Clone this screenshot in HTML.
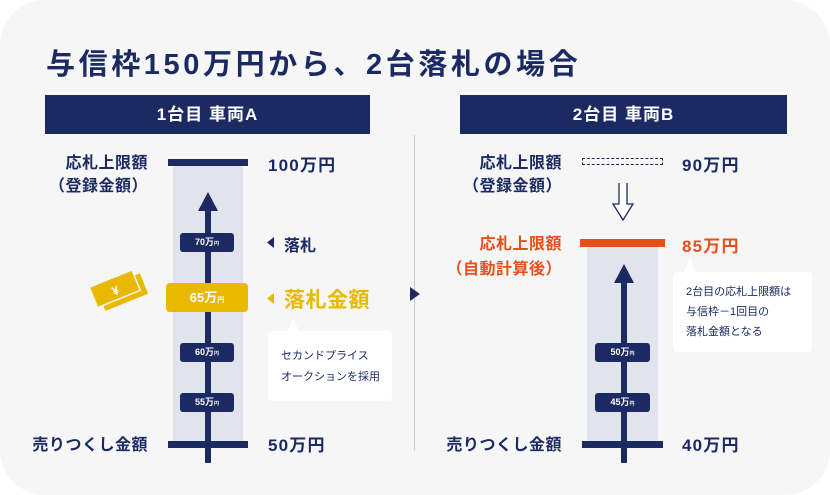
<!DOCTYPE html>
<html><head><meta charset="utf-8"><style>
body{margin:0;width:830px;height:495px;background:#fff;overflow:hidden;font-family:"Liberation Sans","Noto Sans CJK JP",sans-serif;}
.card{position:absolute;left:0;top:0;width:830px;height:495px;background:#f6f6f7;border-radius:45px;}
.a{position:absolute;white-space:nowrap;}
.n{color:#1b2a63;font-weight:bold;}
.box{position:absolute;background:#1b2a63;color:#fff;border-radius:3px;font-size:9px;font-weight:bold;text-align:center;line-height:19px;}
.box small{font-size:5px;}
.num{letter-spacing:1.2px;}
</style></head><body>
<div class="card"></div>
<div class="a n" style="left:46px;top:41px;font-size:29px;letter-spacing:3.6px;">与信枠150万円から、2台落札の場合</div>
<div class="a" style="left:45px;top:95px;width:325px;height:39px;background:#1b2a63;color:#fff;font-weight:bold;font-size:17px;text-align:center;line-height:39px;letter-spacing:1px;">1台目 車両A</div>
<div class="a" style="left:460px;top:95px;width:327px;height:39px;background:#1b2a63;color:#fff;font-weight:bold;font-size:17px;text-align:center;line-height:39px;letter-spacing:1px;">2台目 車両B</div>
<div class="a" style="left:414px;top:135px;width:1px;height:315px;background:#c8cad0;"></div>
<svg class="a" style="left:409px;top:286px" width="12" height="16"><polygon points="1,1 11,8 1,15" fill="#1b2a63"/></svg>

<!-- left column -->
<div class="a" style="left:173px;top:163px;width:70px;height:278px;background:#e1e4ec;"></div>
<div class="a" style="left:168px;top:159px;width:80px;height:7px;background:#1b2a63;"></div>
<div class="a" style="left:168px;top:441px;width:80px;height:7px;background:#1b2a63;"></div>
<div class="a" style="left:205px;top:205px;width:6px;height:258px;background:#1b2a63;"></div>
<svg class="a" style="left:197px;top:192px" width="22" height="20"><polygon points="11,0 21,19 1,19" fill="#1b2a63"/></svg>
<div class="box" style="left:180px;top:233px;width:54px;height:19px;">70万<small>円</small></div>
<div class="box" style="left:166px;top:283px;width:82px;height:29px;line-height:29px;background:#e9b800;font-size:13px;border-radius:4px;">65万<small style="font-size:7px">円</small></div>
<div class="box" style="left:180px;top:343px;width:54px;height:19px;">60万<small>円</small></div>
<div class="box" style="left:180px;top:393px;width:54px;height:19px;">55万<small>円</small></div>
<div class="a n" style="left:0;width:148px;text-align:right;top:152px;font-size:16px;line-height:23px;letter-spacing:0.5px;">応札上限額<br>（登録金額）</div>
<div class="a n" style="left:0;width:148px;text-align:right;top:431px;font-size:16px;letter-spacing:0.5px;">売りつくし金額</div>
<div class="a n num" style="left:268px;top:151px;font-size:17px;">100万円</div>
<div class="a n num" style="left:268px;top:431px;font-size:17px;">50万円</div>
<svg class="a" style="left:267px;top:237px" width="8" height="12"><polygon points="7,0 7,11 0,5.5" fill="#1b2a63"/></svg>
<div class="a n" style="left:284px;top:232px;font-size:16px;">落札</div>
<svg class="a" style="left:267px;top:293px" width="8" height="12"><polygon points="7,0 7,11 0,5.5" fill="#e9b800"/></svg>
<div class="a" style="left:284px;top:284px;font-size:21px;font-weight:bold;color:#e9b800;letter-spacing:0.5px;">落札金額</div>
<svg class="a" style="left:267px;top:316px" width="126" height="86"><path d="M6,15 H20 L26,2 L32,15 H120 Q125,15 125,20 V80 Q125,85 120,85 H6 Q1,85 1,80 V20 Q1,15 6,15Z" fill="#fff"/></svg>
<div class="a" style="left:281px;top:346px;font-size:11px;line-height:21px;color:#1b2a63;">セカンドプライス<br>オークションを採用</div>
<svg class="a" style="left:85px;top:266px" width="70" height="50"><g transform="rotate(-22 35 25)"><rect x="14" y="16" width="46" height="22" fill="#e9b800"/><rect x="8" y="10" width="46" height="22" fill="#e9b800" stroke="#f6f6f7" stroke-width="1.5"/><text x="31" y="27" font-size="12" font-weight="bold" fill="#fff" text-anchor="middle" font-family="Liberation Sans,sans-serif">¥</text></g></svg>

<!-- right column -->
<div class="a" style="left:587px;top:247px;width:71px;height:194px;background:#e1e4ec;"></div>
<div class="a" style="left:582px;top:158px;width:79px;height:5px;border:1px dashed #1b2a63;"></div>
<svg class="a" style="left:611px;top:182px" width="24" height="40"><path d="M8,1 V22 H2 L12,38 L22,22 H16 V1" fill="#fff" stroke="#1b2a63" stroke-width="1.3"/></svg>
<div class="a" style="left:580px;top:239px;width:85px;height:8px;background:#e8501b;"></div>
<div class="a" style="left:582px;top:441px;width:81px;height:7px;background:#1b2a63;"></div>
<div class="a" style="left:621px;top:280px;width:6px;height:183px;background:#1b2a63;"></div>
<svg class="a" style="left:613px;top:264px" width="22" height="20"><polygon points="11,0 21,19 1,19" fill="#1b2a63"/></svg>
<div class="box" style="left:595px;top:343px;width:55px;height:19px;">50万<small>円</small></div>
<div class="box" style="left:595px;top:393px;width:55px;height:19px;">45万<small>円</small></div>
<div class="a n" style="left:400px;width:162px;text-align:right;top:152px;font-size:16px;line-height:23px;letter-spacing:0.5px;">応札上限額<br>（登録金額）</div>
<div class="a" style="left:400px;width:162px;text-align:right;top:232px;font-size:16px;line-height:25px;font-weight:bold;color:#e8501b;letter-spacing:0.5px;">応札上限額<br>（自動計算後）</div>
<div class="a n" style="left:400px;width:162px;text-align:right;top:431px;font-size:16px;letter-spacing:0.5px;">売りつくし金額</div>
<div class="a n num" style="left:682px;top:151px;font-size:17px;">90万円</div>
<div class="a num" style="left:682px;top:232px;font-size:17px;font-weight:bold;color:#e8501b;">85万円</div>
<div class="a n num" style="left:682px;top:431px;font-size:17px;">40万円</div>
<svg class="a" style="left:672px;top:256px" width="142" height="98"><path d="M6,16 H12 L18,2 L24,16 H135 Q140,16 140,21 V91 Q140,96 135,96 H6 Q1,96 1,91 V21 Q1,16 6,16Z" fill="#fff"/></svg>
<div class="a" style="left:686px;top:282px;font-size:11px;line-height:20px;color:#1b2a63;">2台目の応札上限額は<br>与信枠－1回目の<br>落札金額となる</div>
</body></html>
